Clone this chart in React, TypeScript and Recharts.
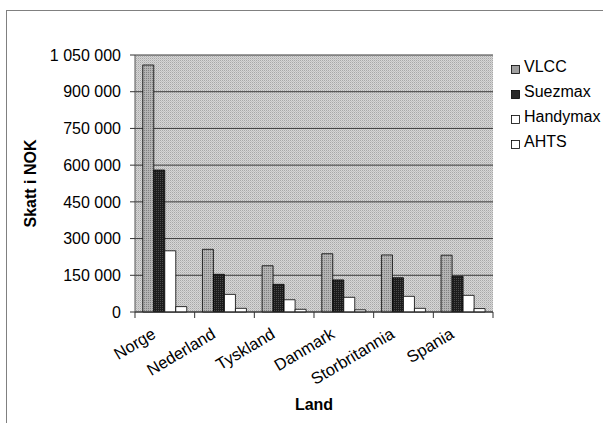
import React from 'react';
import { BarChart, Bar, XAxis, YAxis, CartesianGrid } from 'recharts';

const countries = ['Norge', 'Nederland', 'Tyskland', 'Danmark', 'Storbritannia', 'Spania'];
const vlcc = [1009000, 256000, 189000, 238000, 233000, 232000];
const suezmax = [580000, 154000, 113000, 131000, 140000, 146000];
const handymax = [250000, 72000, 50000, 60000, 64000, 68000];
const ahts = [22000, 15000, 11000, 9000, 15000, 14000];
const yTicks = [0, 150000, 300000, 450000, 600000, 750000, 900000, 1050000];
const seriesNames = ['VLCC', 'Suezmax', 'Handymax', 'AHTS'];
const seriesFills = ['url(#patVlcc)', 'url(#patSuez)', '#ffffff', '#ffffff'];
const legendFills = ['#a0a0a0', '#2a2a2a', '#ffffff', '#ffffff'];
const seriesKeys = ['vlcc', 'suezmax', 'handymax', 'ahts'];

const data = countries.map((c, i) => ({
  land: c,
  vlcc: vlcc[i],
  suezmax: suezmax[i],
  handymax: handymax[i],
  ahts: ahts[i],
}));

const FONT = '"Liberation Sans", Arial, sans-serif';
const BAND = 59.67;

const fmt = (v: number) => String(v).replace(/\B(?=(\d{3})+(?!\d))/g, ' ');

const XTick = (props: any) => {
  const { x, y, payload, index } = props;
  const half = BAND / 2;
  const ax = x - 8;
  const ay = y + 25;
  return (
    <g>
      <line x1={x - half} y1={y} x2={x - half} y2={y + 6} stroke="#333" />
      {index === countries.length - 1 && (
        <line x1={x + half} y1={y} x2={x + half} y2={y + 6} stroke="#333" />
      )}
      <text
        x={ax}
        y={ay}
        textAnchor="end"
        fontSize={16.5}
        fontFamily={FONT}
        fill="#000"
        transform={`rotate(-31, ${ax}, ${ay})`}
      >
        {payload.value}
      </text>
    </g>
  );
};

const LegendBox = () => (
  <div style={{ position: 'absolute', left: 511, top: 54, fontFamily: FONT, fontSize: 16, color: '#000', whiteSpace: 'nowrap' }}>
    {seriesNames.map((n, i) => (
      <div key={n} style={{ display: 'flex', alignItems: 'center', height: 25 }}>
        <svg width={9} height={9} style={{ marginRight: 4, marginTop: 5, flexShrink: 0 }}>
          <rect x={0.5} y={0.5} width={8} height={8} fill={legendFills[i]} stroke="#000" strokeWidth={0.8} />
        </svg>
        <span>{n}</span>
      </div>
    ))}
  </div>
);

export default function App() {
  return (
    <div style={{ position: 'absolute', left: 0, top: 0, width: 603, height: 423, background: '#fff', overflow: 'hidden' }}>
      <div
        style={{
          position: 'absolute',
          left: 6,
          top: 10,
          width: 603,
          height: 420,
          borderLeft: '1px solid #808080',
          borderTop: '1px solid #808080',
        }}
      />
      <div style={{ position: 'absolute', left: 0, top: 0 }}>
        <BarChart
          width={603}
          height={423}
          data={data}
          margin={{ top: 55, right: 110, bottom: 0, left: 0 }}
          barCategoryGap="13%"
          barGap={0}
        >
          <defs>
            <pattern id="patBg" width="2" height="2" patternUnits="userSpaceOnUse">
              <rect width="2" height="2" fill="#d6d6d6" />
              <rect width="1" height="1" fill="#a8a8a8" />
              <rect x="1" y="1" width="1" height="1" fill="#c0c0c0" />
            </pattern>
            <pattern id="patVlcc" width="2" height="2" patternUnits="userSpaceOnUse">
              <rect width="2" height="2" fill="#b4b4b4" />
              <rect width="1" height="1" fill="#808080" />
            </pattern>
            <pattern id="patSuez" width="2" height="2" patternUnits="userSpaceOnUse">
              <rect width="2" height="2" fill="#1c1c1c" />
              <rect width="1" height="1" fill="#4a4a4a" />
            </pattern>
          </defs>
          <CartesianGrid vertical={false} stroke="#3a3a3a" fill="url(#patBg)" strokeWidth={1} />
          <XAxis
            dataKey="land"
            height={111}
            interval={0}
            tickLine={false}
            tickSize={0}
            tickMargin={0}
            axisLine={{ stroke: '#333' }}
            tick={<XTick />}
            label={{
              value: 'Land',
              position: 'insideBottom',
              offset: 13,
              style: { fontFamily: FONT, fontSize: 16, fontWeight: 'bold', fill: '#000' },
            }}
          />
          <YAxis
            width={135}
            domain={[0, 1050000]}
            ticks={yTicks}
            interval={0}
            tickFormatter={fmt}
            tickSize={5}
            tickMargin={9}
            tickLine={{ stroke: '#333' }}
            axisLine={{ stroke: '#555' }}
            tick={{ fontFamily: FONT, fontSize: 16, fill: '#000' }}
            label={{
              value: 'Skatt i NOK',
              angle: -90,
              position: 'insideLeft',
              offset: 30,
              style: { fontFamily: FONT, fontSize: 16, fontWeight: 'bold', fill: '#000', textAnchor: 'middle' },
            }}
          />
          {seriesKeys.map((k, i) => (
            <Bar
              key={k}
              dataKey={k}
              name={seriesNames[i]}
              fill={seriesFills[i]}
              stroke="#000"
              strokeWidth={0.8}
              isAnimationActive={false}
            />
          ))}
        </BarChart>
      </div>
      <LegendBox />
    </div>
  );
}
